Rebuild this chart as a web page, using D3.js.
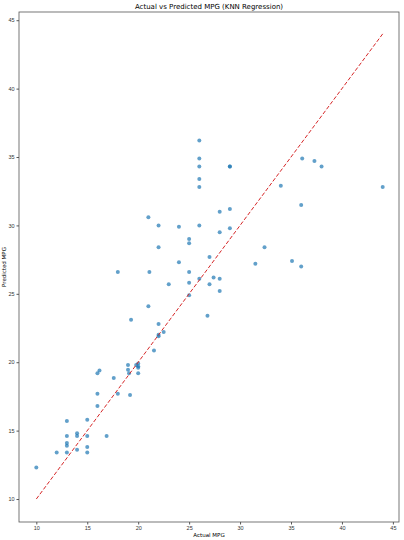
<!DOCTYPE html>
<html><head><meta charset="utf-8">
<script src="https://cdn.jsdelivr.net/npm/d3@7"></script>
<style>body{margin:0;background:#fff;font-family:"DejaVu Sans",sans-serif;}</style>
</head><body><svg id="chart" width="404" height="540"></svg>
<script>
var actual = [26,26,26,26,26,26,26, 29,29,29,29, 36.1,37.3,38, 34,44, 36,36,35.1,32.4,31.5,
  21,22,22,24,24,25,25,25,25,25, 28,28,28,28, 27,27,27.4, 18,21.1,23,21,19.3,22,26.8, 22.5,22,22,
  21.55,19,19,19.1,20,20,20,19.8,20,16,16.2,17.6,18,19.2,16,16,
  13,15,13,13,13,13,12,14,14,14,15,15,15,16.9,10];
var predicted = [36.2,34.9,34.3,33.4,32.8,30.0,26.1, 34.3,34.3,31.2,29.8, 34.9,34.7,34.3, 32.9,32.8, 31.5,27.0,27.4,28.4,27.2,
  30.6,30.0,28.4,29.9,27.3,29.0,28.7,26.6,25.8,24.9, 31.0,29.5,26.1,25.2, 27.7,25.7,26.2, 26.6,26.6,25.7,24.1,23.1,22.8,23.4, 22.2,21.9,22.0,
  20.85,19.8,19.45,19.2,19.9,19.7,19.6,19.8,19.2,19.2,19.4,18.85,17.7,17.6,17.7,16.8,
  15.7,15.8,14.6,14.1,13.9,13.4,13.4,14.8,14.6,13.6,14.6,13.8,13.4,14.6,12.3];
var ticks = [10,15,20,25,30,35,40,45];

var svg = d3.select("#chart");
var m = {left:19, right:5, top:12, bottom:18};
var x = d3.scaleLinear().domain([8.3,45.6]).range([m.left, 404-m.right]);
var y = d3.scaleLinear().domain([8.32,45.6]).range([540-m.bottom, m.top]);

function styleAxis(g){
  g.select(".domain").remove();
  g.selectAll("line").attr("stroke","#555");
  g.selectAll("text").style("font-size","5.5px").style("fill","#333");
}
svg.append("g").attr("transform","translate(0,"+(540-m.bottom)+")")
  .call(d3.axisBottom(x).tickValues(ticks).tickSize(2.5).tickPadding(2)).call(styleAxis);
svg.append("g").attr("transform","translate("+m.left+",0)")
  .call(d3.axisLeft(y).tickValues(ticks).tickSize(2.5).tickPadding(2)).call(styleAxis);
svg.append("rect").attr("x",m.left).attr("y",m.top)
  .attr("width",404-m.right-m.left).attr("height",540-m.bottom-m.top)
  .attr("fill","none").attr("stroke","#555").attr("stroke-width",0.8);

svg.selectAll("circle").data(actual).enter().append("circle")
  .attr("cx",function(d){ return x(d); })
  .attr("cy",function(d,i){ return y(predicted[i]); })
  .attr("r",2).attr("fill","#1f77b4").attr("opacity",0.7);

svg.append("line").attr("x1",x(10)).attr("y1",y(10)).attr("x2",x(44)).attr("y2",y(44))
  .attr("stroke","#d62728").attr("stroke-width",1).attr("stroke-dasharray","4,2");

svg.append("text").attr("x",(m.left+404-m.right)/2).attr("y",9).attr("text-anchor","middle")
  .style("font-size","7px").text("Actual vs Predicted MPG (KNN Regression)");
svg.append("text").attr("x",(m.left+404-m.right)/2).attr("y",537).attr("text-anchor","middle")
  .style("font-size","5.5px").text("Actual MPG");
svg.append("text").attr("transform","translate(6,"+((540-m.bottom+m.top)/2)+") rotate(-90)")
  .attr("text-anchor","middle").style("font-size","5.5px").text("Predicted MPG");
</script></body></html>
